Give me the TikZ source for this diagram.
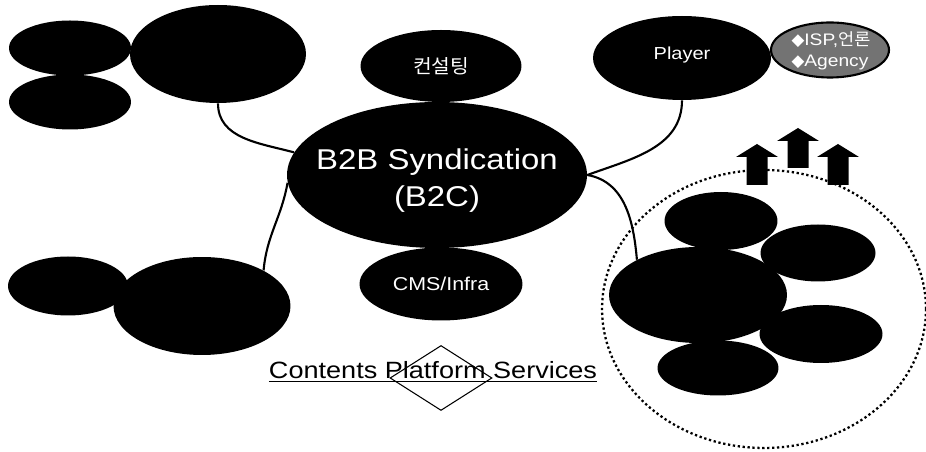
\documentclass[tikz,border=0pt]{standalone}
\usepackage{fontspec}
\setmainfont{Liberation Sans}[FakeStretch=1.15]
\newfontfamily\kor{Noto Sans CJK KR}[FakeStretch=1.05]
\newfontfamily\sym{DejaVu Sans}
\usetikzlibrary{shapes.geometric}

\tikzset{
  blob/.style={ellipse, fill=black, inner sep=0pt},
  lbl/.style={text=white, inner sep=0pt, align=center},
  link/.style={line width=1.2pt},
  fs/.style={font=\fontsize{#1}{#1}\selectfont}
}

\begin{document}
\begin{tikzpicture}[x=0.02cm, y=0.02cm]
    \useasboundingbox (0,0) rectangle (926,452);
    \begin{scope}
      \node[blob, minimum width=2.44cm, minimum height=1.1cm] (tlA) at (70,404) {};
      \node[blob, minimum width=2.44cm, minimum height=1.1cm] (tlB) at (70,350) {};
      \node[blob, minimum width=3.52cm, minimum height=1.96cm] (tlbig) at (218,398) {};
      \node[blob, minimum width=2.4cm, minimum height=1.18cm] (blA) at (68,166) {};
      \node[blob, minimum width=3.54cm, minimum height=1.96cm] (blbig) at (202,146) {};
    \end{scope}
    \begin{scope}
      \node[blob, minimum width=3.22cm, minimum height=1.44cm,
        label={[lbl, fs=11pt]center:{\kor 컨설팅}}] (consult) at (441,386) {};
      \node[blob, minimum width=6cm, minimum height=2.92cm] (b2b) at (437,277) {};
      \node[lbl, font=\fontsize{16.3pt}{21pt}\selectfont] (b2btxt) at (437,271) {B2B Syndication\\(B2C)};
      \node[blob, minimum width=3.26cm, minimum height=1.46cm,
        label={[lbl, fs=10.6pt]center:CMS/Infra}] (cms) at (441,168) {};
    \end{scope}
    \begin{scope}
      \node[blob, minimum width=3.56cm, minimum height=1.68cm] (player) at (682,394) {};
      \node[lbl, fs=9.9pt] (playertxt) at (682,397) {Player};
      \node[ellipse, draw=black, line width=1.2pt, fill=black!55, inner sep=0pt,
        minimum width=2.36cm, minimum height=1.1cm] (isp) at (830,402) {};
      \node[lbl, align=left, font=\fontsize{9.5pt}{12pt}\selectfont] (isptxt) at (831,401)
        {{\sym◆}ISP,{\kor 언론}\\{\sym◆}Agency};
    \end{scope}
    \begin{scope}
      \foreach \cx/\tip/\bot in {757/308/267, 798/324/284, 838/308/267}
        \fill (\cx-10.5,\bot) -- (\cx-10.5,\tip-13) -- (\cx-21,\tip-13) -- (\cx,\tip)
          -- (\cx+21,\tip-13) -- (\cx+10.5,\tip-13) -- (\cx+10.5,\bot) -- cycle;
      \node[ellipse, draw, line width=1.3pt, dash pattern=on 1.3pt off 1.5pt,
        minimum width=6.48cm, minimum height=5.56cm] (group) at (764,143) {};
      \node[blob, minimum width=2.26cm, minimum height=1.16cm] (rtop) at (721,231) {};
      \node[blob, minimum width=3.56cm, minimum height=1.92cm] (rbig) at (698,157) {};
      \node[blob, minimum width=2.3cm, minimum height=1.14cm] (rup) at (818,199) {};
      \node[blob, minimum width=2.46cm, minimum height=1.16cm] (rlow) at (821,118) {};
      \node[blob, minimum width=2.42cm, minimum height=1.1cm] (rbot) at (718,84) {};
    \end{scope}
    \draw[link] (tlbig.south) to[out=-90, in=165] (b2b.171);
    \draw[link] (player.south) to[out=-90, in=20] (b2b.east);
    \draw[link] (b2b.east) to[out=-10, in=95] (rbig.150);
    \draw[link] (b2b.183) to[out=-100, in=85] (blbig.30);
    \node[diamond, draw, line width=0.6pt, inner sep=0pt,
      minimum width=2.04cm, minimum height=1.3cm] (plat) at (441,74) {};
    \node[anchor=base, fs=13.4pt, inner sep=0pt] (cps) at (433,73) {\underline{Contents Platform Services}};
\end{tikzpicture}
\end{document}
